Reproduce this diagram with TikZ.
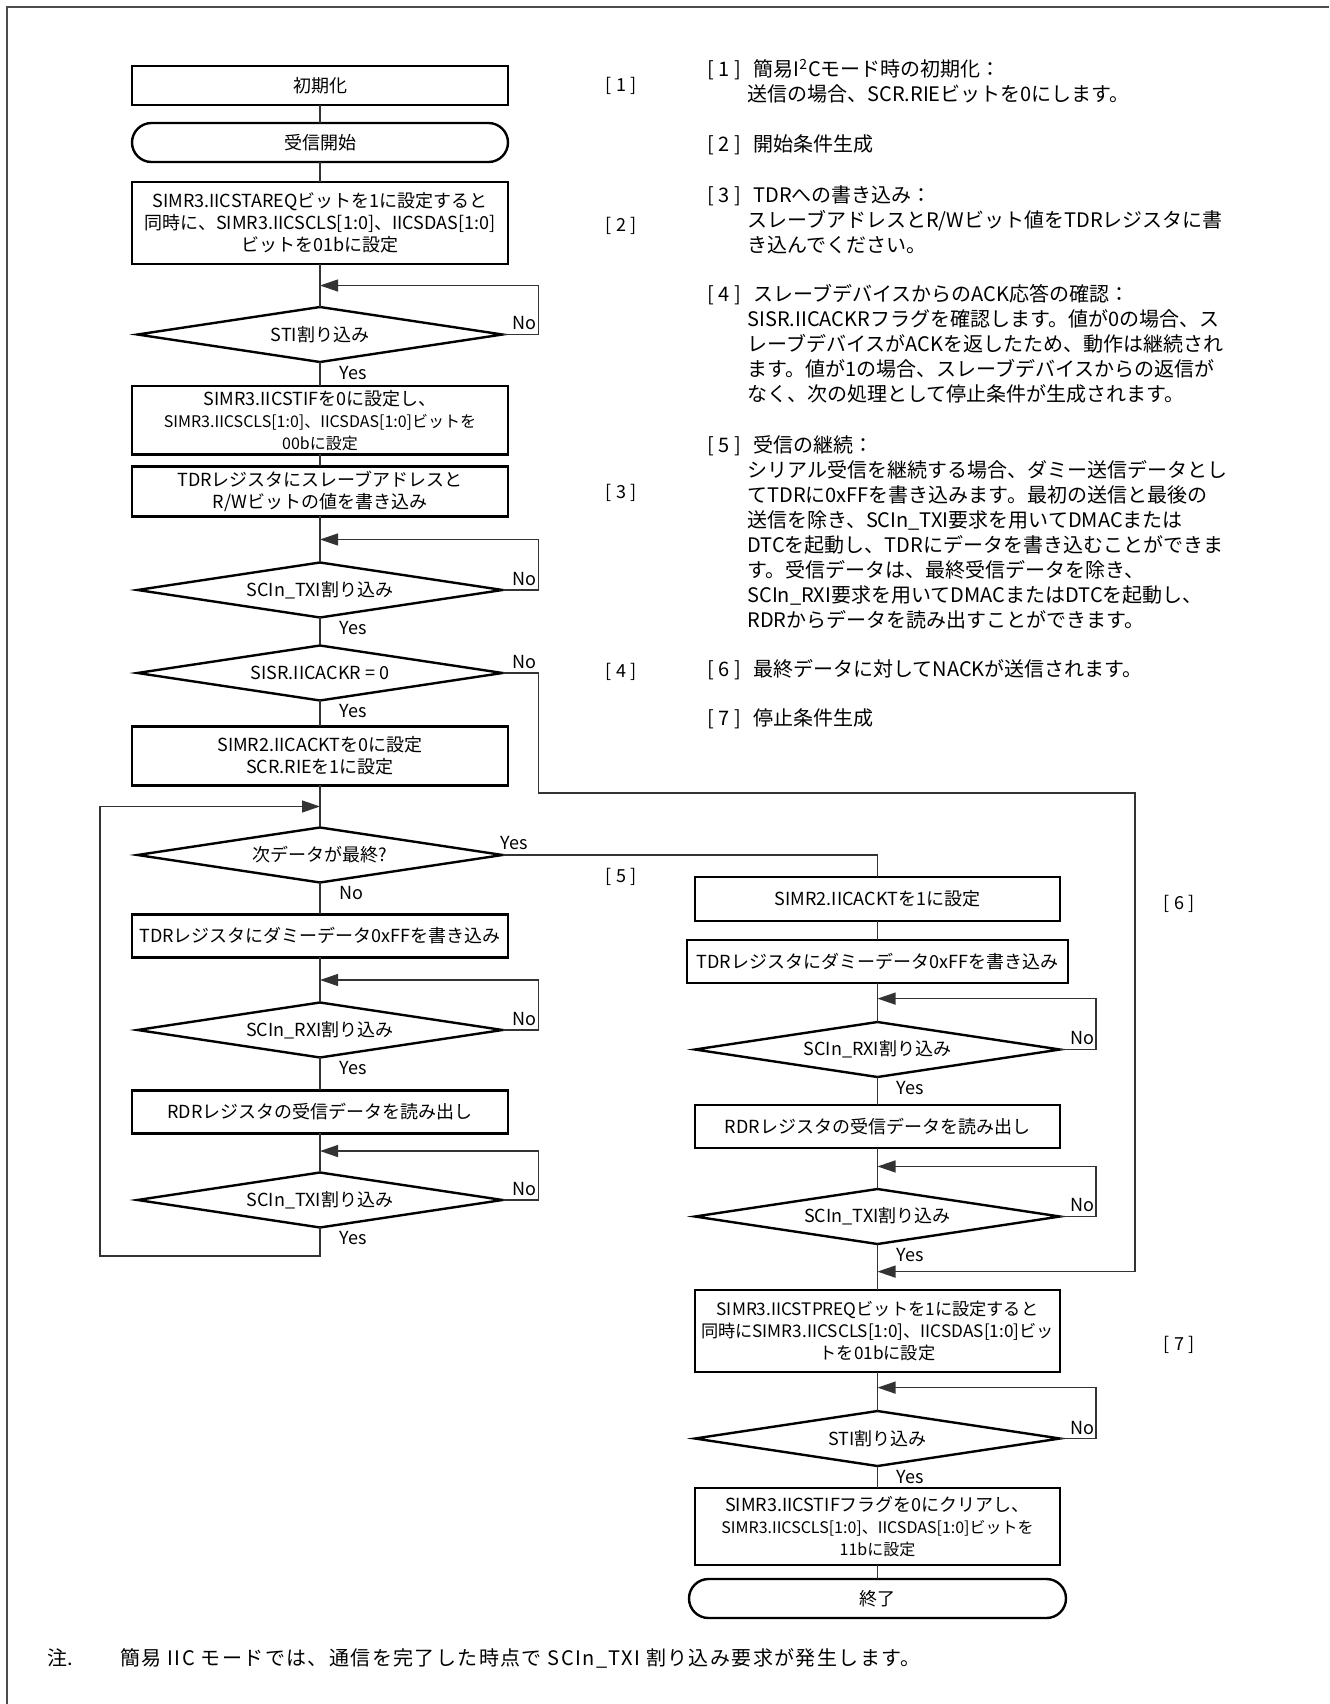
\documentclass[tikz,border=0pt]{standalone}
\usepackage{fontspec}
\setmainfont{Noto Sans CJK JP}
\usepackage{tikz}
\usetikzlibrary{arrows.meta,positioning,shapes.geometric,calc}
\usepackage{xcolor}
\newcommand\blkfont{\fontsize{9pt}{11pt}\selectfont}
\newcommand\smlfont{\fontsize{8pt}{10.5pt}\selectfont}
\newcommand\tagfont{\fontsize{9pt}{11pt}\selectfont}
\newcommand\txtfont{\fontsize{10pt}{12.5pt}\selectfont}

\begin{document}
\begin{tikzpicture}[
    x=0.5pt, y=-0.5pt,
    node distance=10pt,
    block/.style={rectangle, draw=black, line width=1.2pt, outer sep=0pt, inner sep=2pt, align=center, minimum width=188pt, font=\blkfont},
    rblock/.style={block, minimum width=182.5pt},
    term/.style={block, rounded corners=9.75pt, minimum height=19.5pt},
    cond/.style={diamond, draw=black, line width=1.2pt, outer sep=0pt, inner sep=0pt, aspect=6.6, minimum width=182.5pt, minimum height=27.5pt, font=\blkfont},
    flow/.style={draw=black!80, line width=0.6pt},
    back/.style={flow, -{Triangle[length=9pt, width=6pt]}},
    yn/.style={inner sep=0pt, font=\tagfont},
    tag/.style={inner sep=0pt, font=\tagfont},
    para/.style={anchor=north west, inner sep=0pt, align=left, font=\txtfont}
]
\useasboundingbox (0,0) rectangle (1329,1704);
\draw[draw=black!70, line width=1pt] (7,1704) -- (7,7) -- (1329,7);

% left column
\node[block, minimum height=19.5pt] (init) at (320,85.5) {初期化};
\node[term, below=9pt of init] (start) {受信開始};
\node[block, minimum height=41pt, below=10pt of start] (sta) {SIMR3.IICSTAREQビットを1に設定すると\\同時に、SIMR3.IICSCLS[1:0]、IICSDAS[1:0]\\ビットを01bに設定};
\node[cond, below=21.5pt of sta] (sti1) {STI割り込み};
\node[block, minimum height=34pt, below=12pt of sti1] (stif) {SIMR3.IICSTIFを0に設定し、\\{\smlfont SIMR3.IICSCLS[1:0]、IICSDAS[1:0]ビットを}\\{\smlfont 00bに設定}};
\node[block, minimum height=25pt, below=6pt of stif] (tdr) {TDRレジスタにスレーブアドレスと\\R/Wビットの値を書き込み};
\node[cond, below=23pt of tdr] (txi1) {SCIn\_TXI割り込み};
\node[cond, below=14pt of txi1] (ack) {SISR.IICACKR = 0};
\node[block, minimum height=29.5pt, below=13pt of ack] (ackt0) {SIMR2.IICACKTを0に設定\\SCR.RIEを1に設定};
\node[cond, below=21pt of ackt0] (last) {次データが最終?};
\node[block, minimum height=21.5pt, below=16pt of last] (dummy) {TDRレジスタにダミーデータ0xFFを書き込み};
\node[cond, below=22.5pt of dummy] (rxi) {SCIn\_RXI割り込み};
\node[block, minimum height=21.5pt, below=16.5pt of rxi] (rdr) {RDRレジスタの受信データを読み出し};
\node[cond, below=19.5pt of rdr] (txi2) {SCIn\_TXI割り込み};

% right column
\node[rblock, minimum height=22pt] (ackt1) at (877.5,899) {SIMR2.IICACKTを1に設定};
\node[block, minimum width=190.5pt, minimum height=21.5pt, below=9.5pt of ackt1] (dummyr) {TDRレジスタにダミーデータ0xFFを書き込み};
\node[cond, below=19.5pt of dummyr] (rxir) {SCIn\_RXI割り込み};
\node[rblock, minimum height=21.5pt, below=14pt of rxir] (rdrr) {RDRレジスタの受信データを読み出し};
\node[cond, below=20.5pt of rdrr] (txir) {SCIn\_TXI割り込み};
\node[rblock, minimum height=41pt, below=23pt of txir, font=\fontsize{8.6pt}{11pt}\selectfont] (stp) {SIMR3.IICSTPREQビットを1に設定すると\\同時にSIMR3.IICSCLS[1:0]、IICSDAS[1:0]ビッ\\トを01bに設定};
\node[cond, below=19.5pt of stp] (sti2) {STI割り込み};
\node[rblock, minimum height=38.5pt, below=11pt of sti2] (clr) {SIMR3.IICSTIFフラグを0にクリアし、\\{\smlfont SIMR3.IICSCLS[1:0]、IICSDAS[1:0]ビットを}\\{\smlfont 11bに設定}};
\node[term, minimum width=188.5pt, below=7pt of clr] (stop) {終了};

% step tags
\node[tag] (tg1) at (621,86) {[ 1 ]};
\node[tag] (tg2) at (621,226) {[ 2 ]};
\node[tag] (tg3) at (621,493) {[ 3 ]};
\node[tag] (tg4) at (621,672) {[ 4 ]};
\node[tag] (tg5) at (621,877) {[ 5 ]};
\node[tag] (tg6) at (1179,904) {[ 6 ]};
\node[tag] (tg7) at (1179,1345) {[ 7 ]};

% Yes / No
\node[yn, anchor=west] (y1) at ([xshift=9.5pt, yshift=-5.5pt]sti1.south) {Yes};
\node[yn, anchor=west] (n1) at ([xshift=5pt, yshift=5.5pt]sti1.east) {No};
\node[yn, anchor=west] (y2) at ([xshift=9.5pt, yshift=-5.5pt]txi1.south) {Yes};
\node[yn, anchor=west] (n2) at ([xshift=5pt, yshift=5.5pt]txi1.east) {No};
\node[yn, anchor=west] (y3) at ([xshift=9.5pt, yshift=-5.5pt]ack.south) {Yes};
\node[yn, anchor=west] (n3) at ([xshift=5pt, yshift=5.5pt]ack.east) {No};
\node[yn, anchor=west] (y4) at ([xshift=-1pt, yshift=6pt]last.east) {Yes};
\node[yn, anchor=west] (n4) at ([xshift=9.5pt, yshift=-5.5pt]last.south) {No};
\node[yn, anchor=west] (y5) at ([xshift=9.5pt, yshift=-5.5pt]rxi.south) {Yes};
\node[yn, anchor=west] (n5) at ([xshift=5pt, yshift=5.5pt]rxi.east) {No};
\node[yn, anchor=west] (y6) at ([xshift=9.5pt, yshift=-5.5pt]txi2.south) {Yes};
\node[yn, anchor=west] (n6) at ([xshift=5pt, yshift=5.5pt]txi2.east) {No};
\node[yn, anchor=west] (y7) at ([xshift=9.5pt, yshift=-5.5pt]rxir.south) {Yes};
\node[yn, anchor=west] (n7) at ([xshift=5pt, yshift=5.5pt]rxir.east) {No};
\node[yn, anchor=west] (y8) at ([xshift=9.5pt, yshift=-5.5pt]txir.south) {Yes};
\node[yn, anchor=west] (n8) at ([xshift=5pt, yshift=5.5pt]txir.east) {No};
\node[yn, anchor=west] (y9) at ([xshift=9.5pt, yshift=-5.5pt]sti2.south) {Yes};
\node[yn, anchor=west] (n9) at ([xshift=5pt, yshift=5.5pt]sti2.east) {No};

% notes
\node[para] (p1) at (707,59) {\makebox[23pt][l]{[ 1 ]}簡易I\textsuperscript{2}Cモード時の初期化：\\\hspace*{20pt}送信の場合、SCR.RIEビットを0にします。};
\node[para] (p2) at (707,134) {\makebox[23pt][l]{[ 2 ]}開始条件生成};
\node[para] (p3) at (707,185) {\makebox[23pt][l]{[ 3 ]}TDRへの書き込み：\\\hspace*{20pt}スレーブアドレスとR/Wビット値をTDRレジスタに書\\\hspace*{20pt}き込んでください。};
\node[para] (p4) at (707,284) {\makebox[23pt][l]{[ 4 ]}スレーブデバイスからのACK応答の確認：\\\hspace*{20pt}SISR.IICACKRフラグを確認します。値が0の場合、ス\\\hspace*{20pt}レーブデバイスがACKを返したため、動作は継続され\\\hspace*{20pt}ます。値が1の場合、スレーブデバイスからの返信が\\\hspace*{20pt}なく、次の処理として停止条件が生成されます。};
\node[para] (p5) at (707,435) {\makebox[23pt][l]{[ 5 ]}受信の継続：\\\hspace*{20pt}シリアル受信を継続する場合、ダミー送信データとし\\\hspace*{20pt}てTDRに0xFFを書き込みます。最初の送信と最後の\\\hspace*{20pt}送信を除き、SCIn\_TXI要求を用いてDMACまたは\\\hspace*{20pt}DTCを起動し、TDRにデータを書き込むことができま\\\hspace*{20pt}す。受信データは、最終受信データを除き、\\\hspace*{20pt}SCIn\_RXI要求を用いてDMACまたはDTCを起動し、\\\hspace*{20pt}RDRからデータを読み出すことができます。};
\node[para] (p6) at (707,659) {\makebox[23pt][l]{[ 6 ]}最終データに対してNACKが送信されます。};
\node[para] (p7) at (707,708) {\makebox[23pt][l]{[ 7 ]}停止条件生成};

\node[anchor=west, inner sep=0pt, font=\txtfont] (nt) at (47,1658) {注.};
\node[anchor=west, inner sep=0pt, font=\txtfont\addfontfeature{LetterSpace=7}] (nb) at (120,1658) {簡易 IIC モードでは、通信を完了した時点で SCIn\_TXI 割り込み要求が発生します。};

% join points
\coordinate (m1) at ($(sta.south)!0.5!(sti1.north)$);
\coordinate (m2) at ($(tdr.south)!0.5!(txi1.north)$);
\coordinate (m3) at ($(ackt0.south)!0.5!(last.north)$);
\coordinate (m4) at ($(dummy.south)!0.5!(rxi.north)$);
\coordinate (m5) at ($(rdr.south)!0.45!(txi2.north)$);
\coordinate (m6) at ($(dummyr.south)!0.4!(rxir.north)$);
\coordinate (m7) at ($(rdrr.south)!0.45!(txir.north)$);
\coordinate (m8) at ($(txir.south)!0.6!(stp.north)$);
\coordinate (m9) at ($(stp.south)!0.4!(sti2.north)$);
\coordinate (nk) at (1135,793);
\coordinate (lb) at (100,1256);

\draw[flow] (init) -- (start);
\draw[flow] (start) -- (sta);
\draw[flow] (sta) -- (sti1);
\draw[flow] (sti1) -- (stif);
\draw[flow] (stif) -- (tdr);
\draw[flow] (tdr) -- (txi1);
\draw[flow] (txi1) -- (ack);
\draw[flow] (ack) -- (ackt0);
\draw[flow] (ackt0) -- (last);
\draw[flow] (last) -- (dummy);
\draw[flow] (dummy) -- (rxi);
\draw[flow] (rxi) -- (rdr);
\draw[flow] (rdr) -- (txi2);
\draw[flow] (ackt1) -- (dummyr);
\draw[flow] (dummyr) -- (rxir);
\draw[flow] (rxir) -- (rdrr);
\draw[flow] (rdrr) -- (txir);
\draw[flow] (txir) -- (stp);
\draw[flow] (stp) -- (sti2);
\draw[flow] (sti2) -- (clr);
\draw[flow] (clr) -- (stop);

\draw[back] (sti1.east) -- ++(18pt,0) |- (m1);
\draw[back] (txi1.east) -- ++(18pt,0) |- (m2);
\draw[back] (rxi.east) -- ++(18pt,0) |- (m4);
\draw[back] (txi2.east) -- ++(18pt,0) |- (m5);
\draw[back] (rxir.east) -- ++(18pt,0) |- (m6);
\draw[back] (txir.east) -- ++(18pt,0) |- (m7);
\draw[back] (sti2.east) -- ++(18pt,0) |- (m9);
\draw[back] (ack.east) -- ++(18pt,0) |- (nk) |- (m8);
\draw[back] (txi2.south) |- (lb) |- (m3);
\draw[flow] (last.east) -| (ackt1.north);
\end{tikzpicture}
\end{document}
